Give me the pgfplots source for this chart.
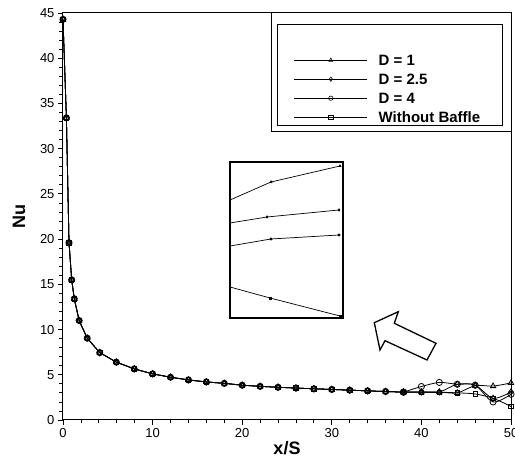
\documentclass[border=0pt]{standalone}
\usepackage{fontspec}
\setmainfont{Liberation Sans}
\usepackage{pgfplots}
\pgfplotsset{compat=1.18}
\usepackage{pgfplotstable}

\pgfplotstableread{
x y
0 44.3
0.38 33.4
0.67 19.6
0.97 15.5
1.26 13.4
1.8 11.0
2.7 9.05
4.1 7.45
5.95 6.4
7.95 5.65
10 5.1
12 4.73
14 4.43
16 4.21
18 4.05
20 3.85
22 3.72
24 3.62
26 3.53
28 3.45
30 3.38
32 3.30
34 3.22
36 3.15
38 3.08
}\common

\pgfplotstableread{
x y
38 3.08
40 3.08
42 3.08
44 3.00
46 3.80
48 3.75
50 4.10
}\tailA

\pgfplotstableread{
x y
38 3.08
40 3.10
42 3.10
44 3.95
46 3.85
48 2.40
50 3.10
}\tailB

\pgfplotstableread{
x y
38 3.08
40 3.70
42 4.15
44 3.95
46 3.85
48 2.00
50 2.85
}\tailC

\pgfplotstableread{
x y
38 3.08
40 3.08
42 3.08
44 3.00
46 2.88
48 2.40
50 1.50
}\tailD

\begin{document}
\begin{tikzpicture}
\begin{axis}[
  at={(0,0)}, anchor=south west,
  scale only axis, width=448bp, height=407bp,
  xmin=0, xmax=50, ymin=0, ymax=45,
  xtick={0,10,...,50}, ytick={0,5,...,45},
  minor tick num=4,
  tick align=outside, tick pos=left,
  major tick length=5bp, minor tick length=3.5bp,
  every tick/.style={black, line width=0.8bp},
  axis line style={line width=1bp},
  tick label style={font=\fontsize{13bp}{15bp}\selectfont},
  /pgf/number format/assume math mode=true,
  xlabel={x/S}, ylabel={Nu},
  label style={font=\fontsize{18bp}{20bp}\selectfont\bfseries},
  xlabel style={at={(axis description cs:0.5,-0.0688)}, anchor=center},
  ylabel style={at={(axis description cs:-0.0982,0.5)}, anchor=center},
  every axis plot/.append style={black, line width=0.8bp, mark size=3.1bp,
     mark options={solid, fill=none, line width=0.8bp}},
  legend style={draw=none, fill=none, at={(axis description cs:0.5156,0.898)},
     anchor=north west, inner sep=0pt, outer sep=0pt, row sep=5bp, column sep=11bp,
     nodes={inner sep=0pt, text height=11bp, text depth=3bp, anchor=base west},
     font=\fontsize{15bp}{18bp}\selectfont\bfseries},
  legend cell align=left,
  legend image code/.code={\draw[line width=0.7bp, mark repeat=2,mark phase=2,mark size=2.2bp, mark options={line width=0.6bp}] plot coordinates {(0bp,5.3bp) (36.5bp,5.3bp) (73bp,5.3bp)};},
]
\addplot[mark=triangle] table {\common};
\addlegendentry{D = 1}
\addplot[mark=diamond] table {\common};
\addlegendentry{D = 2.5}
\addplot[mark=o] table {\common};
\addlegendentry{D = 4}
\addplot[mark=square, mark size=2.2bp] table {\common};
\addlegendentry{Without Baffle}
\addplot[mark=triangle, smooth, forget plot] table {\tailA};
\addplot[mark=diamond, smooth, forget plot] table {\tailB};
\addplot[mark=o, smooth, forget plot] table {\tailC};
\addplot[mark=square, mark size=2.2bp, smooth, forget plot] table {\tailD};
\end{axis}

% inset (zoomed view)
\begin{axis}[
  at={(167bp,102bp)}, anchor=south west,
  scale only axis, width=113bp, height=156bp,
  xmin=0, xmax=113, ymin=0, ymax=156,
  ticks=none, axis line style={line width=2.5bp}, clip=true,
  every axis plot/.append style={black, line width=0.7bp, mark size=1.1bp, mark indices={2,3}},
]
\addplot[mark=triangle*] coordinates {(0,118) (41,136) (110,152)};
\addplot[mark=diamond*] coordinates {(0,95) (37,101) (109,108)};
\addplot[mark=*] coordinates {(0,72) (41,79) (109,83)};
\addplot[mark=square*] coordinates {(0,31) (40,20) (110,2)};
\end{axis}

\begin{scope}[x=1bp, y=1bp]
  % legend frames
  \draw[line width=1bp] (208,288) rectangle (448,407);
  \draw[line width=1bp] (214,294) rectangle (439,395);
  % arrow
  \draw[line width=1.3bp, line join=miter, fill=white]
    (311.3,97.3) -- (335.3,108.3) -- (331.3,96.7) -- (373,76.7) -- (364,60) -- (322,79.3) -- (317,70) -- cycle;
  \pgfresetboundingbox
  \useasboundingbox (-63,-39) rectangle (452,420);
\end{scope}
\end{tikzpicture}
\end{document}
